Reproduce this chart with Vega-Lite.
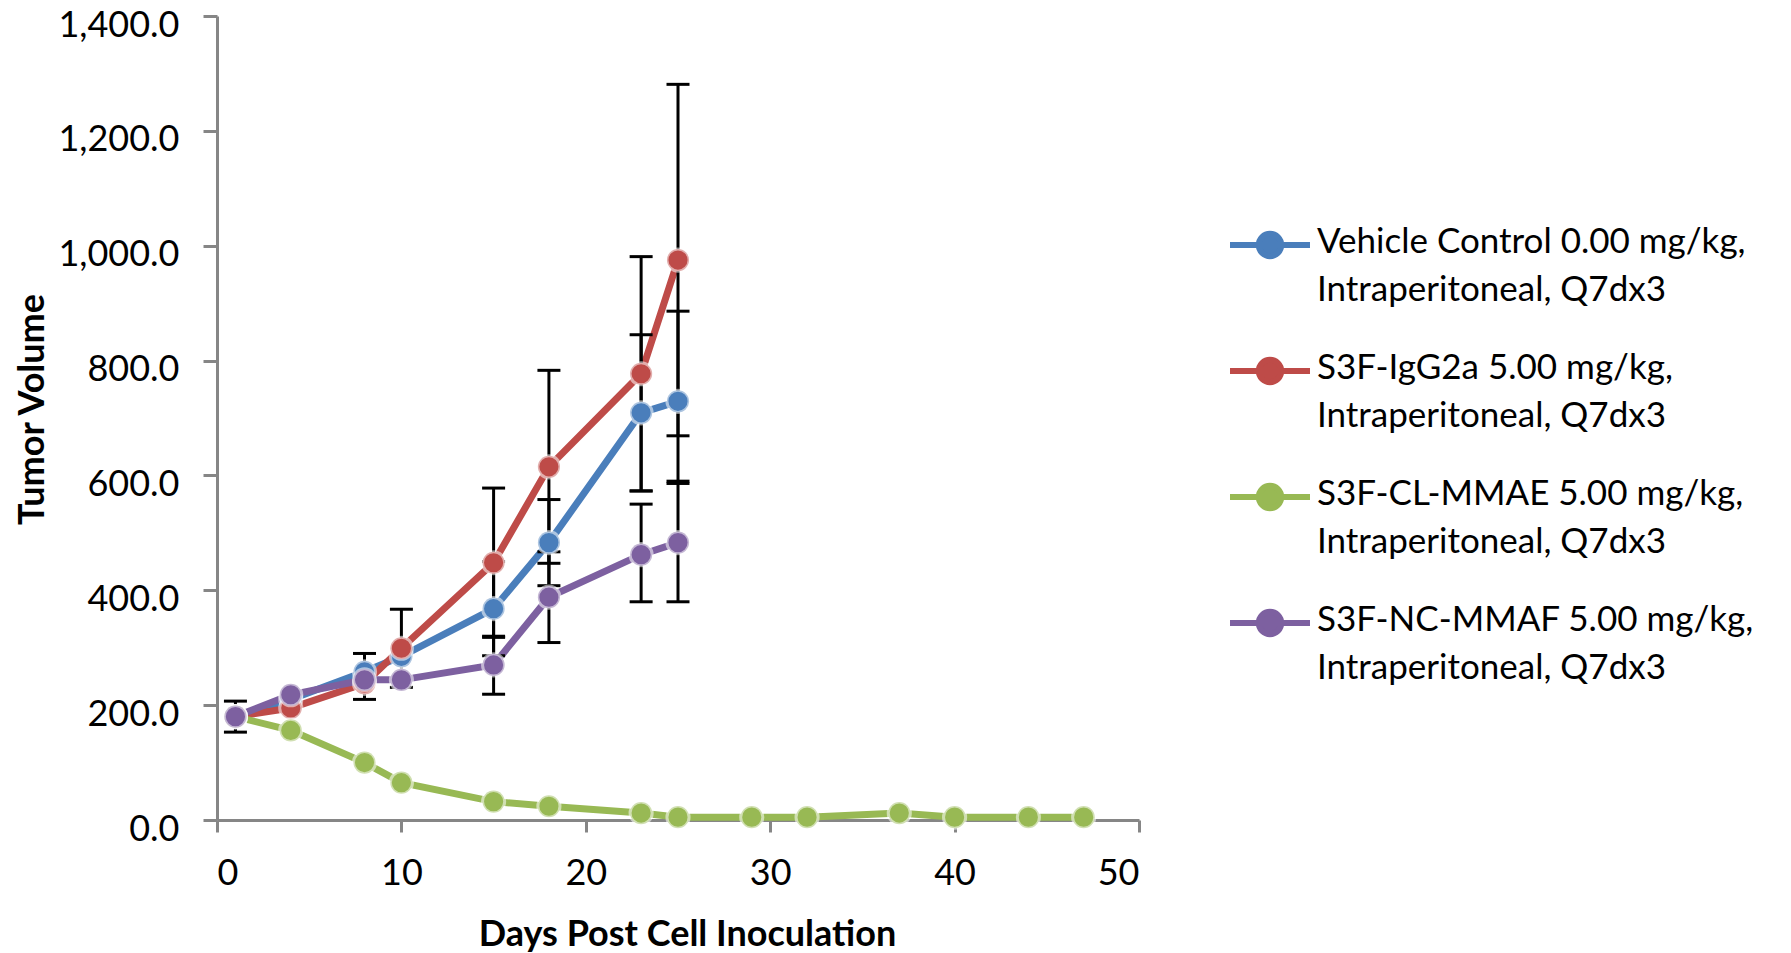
{
  "$schema": "https://vega.github.io/schema/vega-lite/v6.json",
  "width": 922,
  "height": 804,
  "autosize": {"type": "none"},
  "padding": {"left": 217, "top": 16, "right": 652, "bottom": 133},
  "background": "white",
  "config": {
    "view": {"stroke": null},
    "font": "Lato",
    "axis": {
      "grid": false,
      "domainColor": "#868686",
      "domainWidth": 3,
      "tickColor": "#868686",
      "tickWidth": 3,
      "labelFont": "Lato",
      "labelFontSize": 36,
      "labelColor": "black",
      "titleFont": "Lato",
      "titleFontWeight": "bold",
      "titleFontSize": 36,
      "titleColor": "black"
    },
    "axisX": {"tickSize": 12, "labelPadding": 24, "titlePadding": 26, "titleX": 470},
    "axisY": {"tickSize": 14, "labelPadding": 24, "labelOffset": 9, "titlePadding": 6, "titleY": 393}
  },
  "datasets": {
    "series": [
      {"group": "Vehicle Control 0.00 mg/kg, Intraperitoneal, Q7dx3", "day": 1, "value": 180},
      {"group": "Vehicle Control 0.00 mg/kg, Intraperitoneal, Q7dx3", "day": 4, "value": 210},
      {"group": "Vehicle Control 0.00 mg/kg, Intraperitoneal, Q7dx3", "day": 8, "value": 258},
      {"group": "Vehicle Control 0.00 mg/kg, Intraperitoneal, Q7dx3", "day": 10, "value": 285},
      {"group": "Vehicle Control 0.00 mg/kg, Intraperitoneal, Q7dx3", "day": 15, "value": 368},
      {"group": "Vehicle Control 0.00 mg/kg, Intraperitoneal, Q7dx3", "day": 18, "value": 483},
      {"group": "Vehicle Control 0.00 mg/kg, Intraperitoneal, Q7dx3", "day": 23, "value": 709},
      {"group": "Vehicle Control 0.00 mg/kg, Intraperitoneal, Q7dx3", "day": 25, "value": 729},
      {"group": "S3F-IgG2a 5.00 mg/kg, Intraperitoneal, Q7dx3", "day": 1, "value": 180},
      {"group": "S3F-IgG2a 5.00 mg/kg, Intraperitoneal, Q7dx3", "day": 4, "value": 195},
      {"group": "S3F-IgG2a 5.00 mg/kg, Intraperitoneal, Q7dx3", "day": 8, "value": 238},
      {"group": "S3F-IgG2a 5.00 mg/kg, Intraperitoneal, Q7dx3", "day": 10, "value": 299},
      {"group": "S3F-IgG2a 5.00 mg/kg, Intraperitoneal, Q7dx3", "day": 15, "value": 448},
      {"group": "S3F-IgG2a 5.00 mg/kg, Intraperitoneal, Q7dx3", "day": 18, "value": 615},
      {"group": "S3F-IgG2a 5.00 mg/kg, Intraperitoneal, Q7dx3", "day": 23, "value": 777},
      {"group": "S3F-IgG2a 5.00 mg/kg, Intraperitoneal, Q7dx3", "day": 25, "value": 975},
      {"group": "S3F-CL-MMAE 5.00 mg/kg, Intraperitoneal, Q7dx3", "day": 1, "value": 180},
      {"group": "S3F-CL-MMAE 5.00 mg/kg, Intraperitoneal, Q7dx3", "day": 4, "value": 156},
      {"group": "S3F-CL-MMAE 5.00 mg/kg, Intraperitoneal, Q7dx3", "day": 8, "value": 100},
      {"group": "S3F-CL-MMAE 5.00 mg/kg, Intraperitoneal, Q7dx3", "day": 10, "value": 65},
      {"group": "S3F-CL-MMAE 5.00 mg/kg, Intraperitoneal, Q7dx3", "day": 15, "value": 32},
      {"group": "S3F-CL-MMAE 5.00 mg/kg, Intraperitoneal, Q7dx3", "day": 18, "value": 24},
      {"group": "S3F-CL-MMAE 5.00 mg/kg, Intraperitoneal, Q7dx3", "day": 23, "value": 12},
      {"group": "S3F-CL-MMAE 5.00 mg/kg, Intraperitoneal, Q7dx3", "day": 25, "value": 5},
      {"group": "S3F-CL-MMAE 5.00 mg/kg, Intraperitoneal, Q7dx3", "day": 29, "value": 5},
      {"group": "S3F-CL-MMAE 5.00 mg/kg, Intraperitoneal, Q7dx3", "day": 32, "value": 5},
      {"group": "S3F-CL-MMAE 5.00 mg/kg, Intraperitoneal, Q7dx3", "day": 37, "value": 12},
      {"group": "S3F-CL-MMAE 5.00 mg/kg, Intraperitoneal, Q7dx3", "day": 40, "value": 5},
      {"group": "S3F-CL-MMAE 5.00 mg/kg, Intraperitoneal, Q7dx3", "day": 44, "value": 5},
      {"group": "S3F-CL-MMAE 5.00 mg/kg, Intraperitoneal, Q7dx3", "day": 47, "value": 5},
      {"group": "S3F-NC-MMAF 5.00 mg/kg, Intraperitoneal, Q7dx3", "day": 1, "value": 180},
      {"group": "S3F-NC-MMAF 5.00 mg/kg, Intraperitoneal, Q7dx3", "day": 4, "value": 218},
      {"group": "S3F-NC-MMAF 5.00 mg/kg, Intraperitoneal, Q7dx3", "day": 8, "value": 244},
      {"group": "S3F-NC-MMAF 5.00 mg/kg, Intraperitoneal, Q7dx3", "day": 10, "value": 244},
      {"group": "S3F-NC-MMAF 5.00 mg/kg, Intraperitoneal, Q7dx3", "day": 15, "value": 270},
      {"group": "S3F-NC-MMAF 5.00 mg/kg, Intraperitoneal, Q7dx3", "day": 18, "value": 388},
      {"group": "S3F-NC-MMAF 5.00 mg/kg, Intraperitoneal, Q7dx3", "day": 23, "value": 462},
      {"group": "S3F-NC-MMAF 5.00 mg/kg, Intraperitoneal, Q7dx3", "day": 25, "value": 483}
    ],
    "errors": [
      {"group": "Vehicle Control 0.00 mg/kg, Intraperitoneal, Q7dx3", "day": 1, "lo": 153, "hi": 207},
      {"group": "Vehicle Control 0.00 mg/kg, Intraperitoneal, Q7dx3", "day": 8, "lo": 210, "hi": 290},
      {"group": "Vehicle Control 0.00 mg/kg, Intraperitoneal, Q7dx3", "day": 15, "lo": 286, "hi": 450},
      {"group": "Vehicle Control 0.00 mg/kg, Intraperitoneal, Q7dx3", "day": 18, "lo": 408, "hi": 558},
      {"group": "Vehicle Control 0.00 mg/kg, Intraperitoneal, Q7dx3", "day": 23, "lo": 573, "hi": 845},
      {"group": "Vehicle Control 0.00 mg/kg, Intraperitoneal, Q7dx3", "day": 25, "lo": 590, "hi": 886},
      {"group": "S3F-IgG2a 5.00 mg/kg, Intraperitoneal, Q7dx3", "day": 10, "lo": 231, "hi": 367},
      {"group": "S3F-IgG2a 5.00 mg/kg, Intraperitoneal, Q7dx3", "day": 15, "lo": 318, "hi": 578},
      {"group": "S3F-IgG2a 5.00 mg/kg, Intraperitoneal, Q7dx3", "day": 18, "lo": 447, "hi": 783},
      {"group": "S3F-IgG2a 5.00 mg/kg, Intraperitoneal, Q7dx3", "day": 23, "lo": 573, "hi": 981},
      {"group": "S3F-IgG2a 5.00 mg/kg, Intraperitoneal, Q7dx3", "day": 25, "lo": 669, "hi": 1281},
      {"group": "S3F-NC-MMAF 5.00 mg/kg, Intraperitoneal, Q7dx3", "day": 15, "lo": 219, "hi": 320},
      {"group": "S3F-NC-MMAF 5.00 mg/kg, Intraperitoneal, Q7dx3", "day": 18, "lo": 309, "hi": 467},
      {"group": "S3F-NC-MMAF 5.00 mg/kg, Intraperitoneal, Q7dx3", "day": 23, "lo": 380, "hi": 550},
      {"group": "S3F-NC-MMAF 5.00 mg/kg, Intraperitoneal, Q7dx3", "day": 25, "lo": 380, "hi": 586}
    ]
  },
  "layer": [
    {
      "data": {"name": "series"},
      "mark": {"type": "line", "strokeWidth": 7},
      "encoding": {
        "x": {"field": "day", "type": "quantitative", "scale": {"domain": [0, 50]}, "axis": {"values": [0, 10, 20, 30, 40, 50], "title": "Days Post Cell Inoculation", "format": "d"}},
        "y": {"field": "value", "type": "quantitative", "scale": {"domain": [0, 1400]}, "axis": {"values": [0, 200, 400, 600, 800, 1000, 1200, 1400], "format": ",.1f", "title": "Tumor Volume"}},
        "color": {
          "field": "group",
          "type": "nominal",
          "sort": null,
          "scale": {
            "domain": [
              "Vehicle Control 0.00 mg/kg, Intraperitoneal, Q7dx3",
              "S3F-IgG2a 5.00 mg/kg, Intraperitoneal, Q7dx3",
              "S3F-CL-MMAE 5.00 mg/kg, Intraperitoneal, Q7dx3",
              "S3F-NC-MMAF 5.00 mg/kg, Intraperitoneal, Q7dx3"
            ],
            "range": ["#4A7EBB", "#BE4B48", "#98B954", "#7D60A0"]
          },
          "legend": {
            "orient": "none",
            "legendX": 1010,
            "legendY": 186,
            "title": null,
            "symbolType": "M -1 0 L 1 0 M 0.28 0 A 0.28 0.28 0 1 1 -0.28 0 A 0.28 0.28 0 1 1 0.28 0 Z",
            "symbolSize": 6400,
            "symbolStrokeWidth": 6,
            "labelFont": "Lato",
            "labelFontSize": 35,
            "labelColor": "black",
            "labelLimit": 2000,
            "labelOffset": 4,
            "rowPadding": 20,
            "labelExpr": "[slice(datum.label, 0, indexof(datum.label, 'Intra') - 1), slice(datum.label, indexof(datum.label, 'Intra'))]",
            "encode": {
              "symbols": {"update": {"fill": {"scale": "color", "field": "value"}, "stroke": {"scale": "color", "field": "value"}, "strokeWidth": {"value": 6}, "opacity": {"value": 1}}},
              "labels": {"update": {"baseline": {"value": "top"}, "dy": {"value": -20}, "lineHeight": {"value": 48}}}
            }
          }
        }
      }
    },
    {
      "data": {"name": "errors"},
      "mark": {"type": "rule", "color": "black", "strokeWidth": 3},
      "encoding": {
        "x": {"field": "day", "type": "quantitative", "title": "Days Post Cell Inoculation"},
        "y": {"field": "lo", "type": "quantitative", "title": "Tumor Volume"},
        "y2": {"field": "hi"}
      }
    },
    {
      "data": {"name": "errors"},
      "mark": {"type": "tick", "orient": "horizontal", "color": "black", "size": 23, "thickness": 3, "opacity": 1},
      "encoding": {
        "x": {"field": "day", "type": "quantitative", "title": "Days Post Cell Inoculation"},
        "y": {"field": "lo", "type": "quantitative", "title": "Tumor Volume"}
      }
    },
    {
      "data": {"name": "errors"},
      "mark": {"type": "tick", "orient": "horizontal", "color": "black", "size": 23, "thickness": 3, "opacity": 1},
      "encoding": {
        "x": {"field": "day", "type": "quantitative", "title": "Days Post Cell Inoculation"},
        "y": {"field": "hi", "type": "quantitative", "title": "Tumor Volume"}
      }
    },
    {
      "data": {"name": "series"},
      "mark": {"type": "point", "shape": "circle", "filled": true, "size": 490, "opacity": 1, "stroke": "white", "strokeWidth": 3, "strokeOpacity": 0.55},
      "encoding": {
        "x": {"field": "day", "type": "quantitative", "title": "Days Post Cell Inoculation"},
        "y": {"field": "value", "type": "quantitative", "title": "Tumor Volume"},
        "color": {"field": "group", "type": "nominal", "sort": null}
      }
    }
  ]
}
